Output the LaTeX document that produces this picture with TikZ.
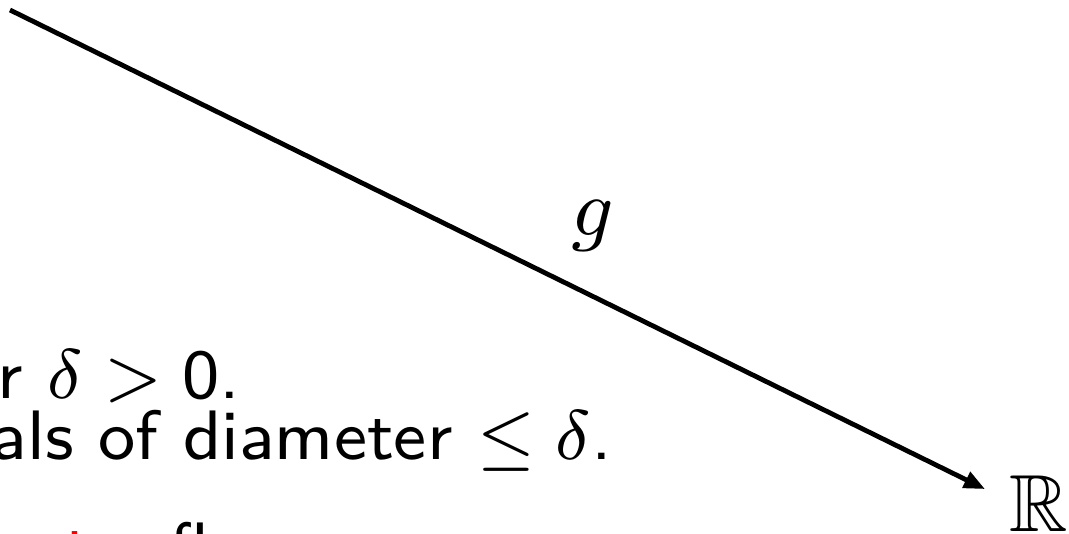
\documentclass[tikz,border=0pt]{standalone}
\usepackage{amssymb}
\usetikzlibrary{arrows.meta}
\begin{document}
\begin{tikzpicture}[x=1pt,y=-1pt,
  txt/.style={scale=8.75, inner sep=0pt, anchor=base west, font=\fontsize{8}{9.6}\sffamily},
  lbl/.style={scale=9, font=\fontsize{9}{10}\selectfont, inner sep=0pt},
  arr/.style={line width=4.8pt, -{Triangle[length=21pt,width=17pt]}}]
\useasboundingbox (0,0) rectangle (1069,534);
\node[txt] (l1) at (-4,399) {r $\delta>\mathsf{0}$.};
\node[txt] (l2) at (-10,460) {als of diameter $\leq\delta$.};
\node[txt, text=red] (l3a) at (63,571) {t};
\node[txt] (l3b) at (168,571) {fl};
\node[lbl, anchor=base west, inner sep=2.55pt, text depth=2.55pt] (R) at (985,532) {$\mathbb{R}$};
\coordinate (src) at (10,10);
\draw[arr] (src) -- node[lbl, pos=0.598, above=2.6pt] (g) {$g$} (R);
\end{tikzpicture}
\end{document}
